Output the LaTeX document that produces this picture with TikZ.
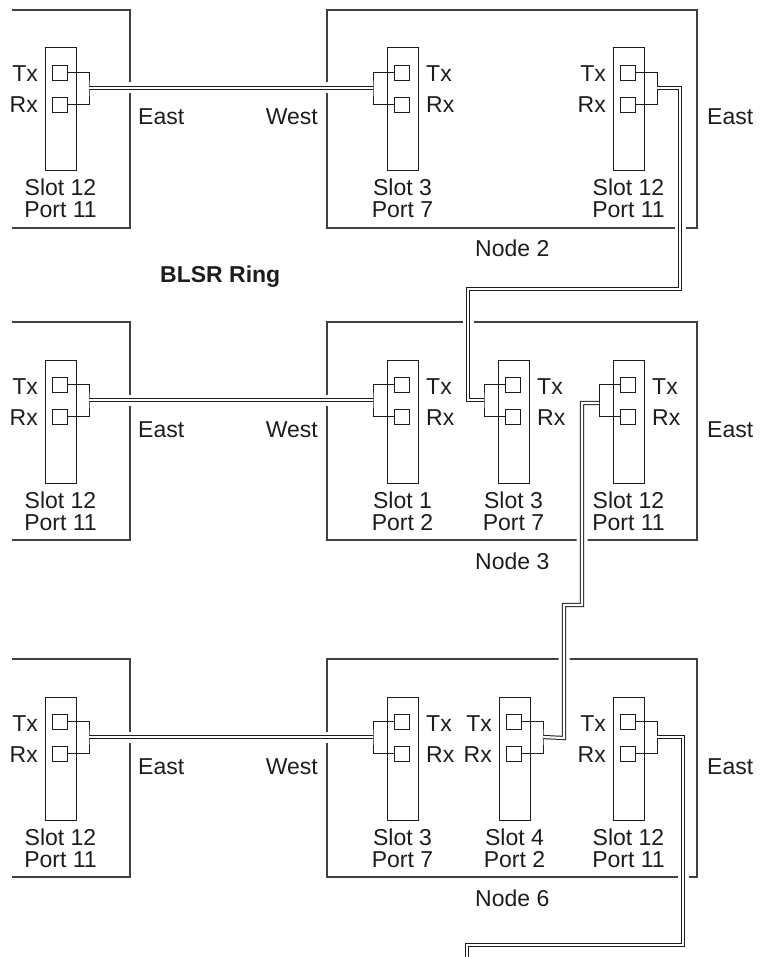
\documentclass[tikz,border=0pt]{standalone}
\usepackage{fontspec}
\setmainfont{Liberation Sans}
\pgfdeclarelayer{bg}
\pgfsetlayers{bg,main}
\definecolor{ink}{rgb}{0.12,0.11,0.11}
\definecolor{edge}{rgb}{0.25,0.25,0.25}
\tikzset{
  card/.style={draw=ink, line width=1pt, minimum width=31pt, minimum height=123pt, inner sep=0pt},
  port/.style={draw=ink, line width=0.9pt, minimum size=15pt, inner sep=0pt},
  conn/.style={draw=ink, line width=0.9pt},
  cable/.style={draw=ink, line width=1pt, double=white, double distance=2.2pt},
  halo/.style={draw=white, line width=11pt},
  shelf/.style={draw=edge, line width=1.2pt},
  txt/.style={font=\fontsize{23pt}{22pt}\selectfont, text=ink, inner sep=0pt, anchor=base},
  bold/.style={font=\fontsize{23pt}{22pt}\selectfont\bfseries, text=ink, inner sep=0pt, anchor=base west}
}
% card with connector on its right, Tx/Rx labels on its left
\newcommand\cardR[5]{%
  \node[card] (#1) at ({#2+15.5},{109.5+#3}) {};
  \node[port] (#1t) at ({#2+14.5},{72.5+#3}) {};
  \node[port] (#1r) at ({#2+14.5},{104.5+#3}) {};
  \coordinate (#1j) at ({#2+44},{88+#3});
  \draw[conn] (#1t.east) -| (#1j) |- (#1r.east);
  \node[txt, anchor=base east] (#1tx) at ({#2-7},{82+#3}) {Tx};
  \node[txt, anchor=base east] (#1rx) at ({#2-7},{113+#3}) {Rx};
  \node[txt] (#1s) at ({#2+15.5},{196+#3}) {Slot #4};
  \node[txt] (#1p) at ({#2+15.5},{218+#3}) {Port #5};
}
% card with connector on its left, Tx/Rx labels on its right
\newcommand\cardL[5]{%
  \node[card] (#1) at ({#2+15.5},{109.5+#3}) {};
  \node[port] (#1t) at ({#2+14.5},{72.5+#3}) {};
  \node[port] (#1r) at ({#2+14.5},{104.5+#3}) {};
  \coordinate (#1j) at ({#2-14},{88+#3});
  \draw[conn] (#1t.west) -| (#1j) |- (#1r.west);
  \node[txt, anchor=base west] (#1tx) at ({#2+39},{82+#3}) {Tx};
  \node[txt, anchor=base west] (#1rx) at ({#2+39},{113+#3}) {Rx};
  \node[txt] (#1s) at ({#2+15.5},{196+#3}) {Slot #4};
  \node[txt] (#1p) at ({#2+15.5},{218+#3}) {Port #5};
}
\newcommand\shelves[1]{%
  \begin{pgfonlayer}{bg}
  \draw[shelf] (12,{10+#1}) -- (130,{10+#1}) -- (130,{228+#1}) -- (12,{228+#1});
  \draw[shelf] (327,{10+#1}) rectangle (697,{228+#1});
  \end{pgfonlayer}
}
\newcommand\cab[1]{%
  \begin{pgfonlayer}{bg}\draw[halo] #1;\end{pgfonlayer}
  \draw[cable] #1;
}
\begin{document}
\begin{tikzpicture}[x=1pt,y=-1pt]
\useasboundingbox (0,0) rectangle (761,957);

% ---------- row 1 : Node 2 ----------
\shelves{0}
\cardR{aL}{45}{0}{12}{11}
\cardL{aA}{387}{0}{3}{7}
\cardR{aC}{613}{0}{12}{11}
\node[txt, anchor=base west] (aE) at (138,125) {East};
\node[txt, anchor=base east] (aW) at (318,125) {West};
\node[txt, anchor=base west] (aE2) at (707,125) {East};
\node[txt, anchor=base west] (n2) at (475,257) {Node 2};
\node[bold] (ring) at (160,283) {BLSR Ring};

% ---------- row 2 : Node 3 ----------
\shelves{312}
\cardR{bL}{45}{312}{12}{11}
\cardL{bA}{387}{312}{1}{2}
\cardL{bB}{498}{312}{3}{7}
\cardL{bC}{613}{312}{12}{11}
\node[txt, anchor=base west] (bE) at (138,437) {East};
\node[txt, anchor=base east] (bW) at (318,437) {West};
\node[txt, anchor=base west] (bE2) at (707,437) {East};
\node[txt, anchor=base west] (n3) at (475,569) {Node 3};

% ---------- row 3 : Node 6 ----------
\shelves{649}
\cardR{cL}{45}{649}{12}{11}
\cardL{cA}{387}{649}{3}{7}
\cardR{cB}{499}{649}{4}{2}
\cardR{cC}{613}{649}{12}{11}
\node[txt, anchor=base west] (cE) at (138,774) {East};
\node[txt, anchor=base east] (cW) at (318,774) {West};
\node[txt, anchor=base west] (cE2) at (707,774) {East};
\node[txt, anchor=base west] (n6) at (475,906) {Node 6};

% ---------- cables ----------
\coordinate (k1) at (680,289);
\coordinate (k2) at (468,400);
\coordinate (bCc) at (599,403);
\coordinate (m1) at (582,605);
\coordinate (m2) at (564,738);
\coordinate (q1) at (683,945);
\coordinate (q2) at (467,960);

\cab{(aLj) -- (aAj)}
\cab{(bLj) -- (bAj)}
\cab{(cLj) -- (cAj)}
\cab{(aCj) -| (k1) -| (k2) -- (bBj)}
\cab{(bCc) -| (m1) -| (m2) -- (cBj)}
\cab{(cCj) -| (q1) -| (q2)}
\end{tikzpicture}
\end{document}
